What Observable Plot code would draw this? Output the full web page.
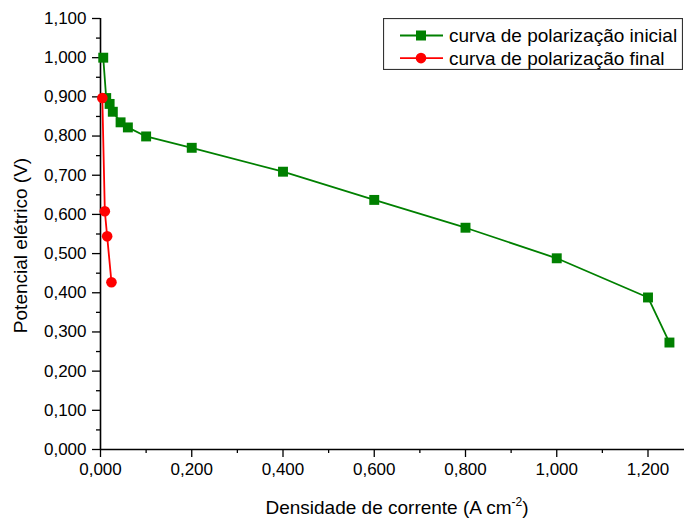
<!DOCTYPE html>
<html>
<head>
<meta charset="utf-8">
<script src="https://cdn.jsdelivr.net/npm/d3@7"></script>
<script src="https://cdn.jsdelivr.net/npm/@observablehq/plot@0.6"></script>
<style>
  html, body { margin: 0; padding: 0; background: #fff; }
  #chart { position: relative; width: 684px; height: 520px; font-family: "Liberation Sans", Arial, sans-serif; }
  #legend { position: absolute; left: 383px; top: 18px; }
</style>
</head>
<body>
<div id="chart"></div>
<script>
// Polarization curves: current density (A cm^-2) vs. cell potential (V)
const initialCurrent   = [0.006, 0.0125, 0.02, 0.027, 0.044, 0.06, 0.1, 0.2, 0.4, 0.6, 0.8, 1.0, 1.2, 1.247];
const initialPotential = [1.000, 0.897, 0.882, 0.862, 0.835, 0.822, 0.799, 0.770, 0.709, 0.637, 0.566, 0.488, 0.388, 0.273];
const finalCurrent     = [0.004, 0.0095, 0.0146, 0.024];
const finalPotential   = [0.897, 0.608, 0.544, 0.427];

const seriesNames = ["curva de polarização inicial", "curva de polarização final"];
const seriesColors = ["#008000", "#ff0000"];
const seriesSymbols = ["square", "circle"];

const yMajorTicks = d3.range(12).map(i => i / 10);
const yMinorTicks = d3.range(11).map(i => i / 10 + 0.05);
const xMajorTicks = d3.range(7).map(i => i * 0.2);
const xMinorTicks = d3.range(7).map(i => i * 0.2 + 0.1);

const xTitle = "Densidade de corrente (A cm";
const xTitleSup = "-2";
const yTitle = "Potencial elétrico (V)";

const initial = initialCurrent.map((x, i) => ({x, y: initialPotential[i]}));
const finalData = finalCurrent.map((x, i) => ({x, y: finalPotential[i]}));

const ptFormat = d3.formatLocale({decimal: ",", thousands: ".", grouping: [3], currency: ["", ""]}).format(".3f");

const plot = Plot.plot({
  width: 684,
  height: 520,
  marginLeft: 100,
  marginRight: 0,
  marginTop: 18,
  marginBottom: 71,
  style: {fontFamily: "Liberation Sans, Arial, sans-serif", fontSize: "17px", color: "#000", background: "#fff", overflow: "visible"},
  x: {domain: [0, 1.28]},
  y: {domain: [0, 1.1]},
  marks: [
    Plot.axisY({ticks: yMinorTicks, tickSize: 4, text: null, label: null, strokeWidth: 1.3}),
    Plot.axisY({ticks: yMajorTicks, tickSize: 8, tickPadding: 6, tickFormat: ptFormat, label: null, strokeWidth: 1.3, fontSize: 17}),
    Plot.axisX({ticks: xMinorTicks, tickSize: 4, text: null, label: null, strokeWidth: 1.3}),
    Plot.axisX({ticks: xMajorTicks, tickSize: 8, tickPadding: 5, tickFormat: ptFormat, label: null, strokeWidth: 1.3, fontSize: 17}),
    Plot.ruleX([0], {stroke: "#000", strokeWidth: 1.6}),
    Plot.ruleY([0], {stroke: "#000", strokeWidth: 1.6}),
    Plot.line(initial, {x: "x", y: "y", stroke: seriesColors[0], strokeWidth: 1.8}),
    Plot.dot(initial, {x: "x", y: "y", symbol: seriesSymbols[0], r: 5.6, fill: seriesColors[0], stroke: null}),
    Plot.line(finalData, {x: "x", y: "y", stroke: seriesColors[1], strokeWidth: 1.8}),
    Plot.dot(finalData, {x: "x", y: "y", symbol: seriesSymbols[1], r: 5.3, fill: seriesColors[1], stroke: null})
  ]
});

const chart = document.getElementById("chart");
chart.appendChild(plot);

// Axis titles (with superscript unit exponent)
const svg = d3.select(plot);
const xs = plot.scale("x"), ys = plot.scale("y");
const xMid = (xs.range[0] + xs.range[1]) / 2 + 5;
const xt = svg.append("text")
  .attr("x", xMid).attr("y", 514)
  .attr("text-anchor", "middle")
  .attr("font-size", 19).attr("fill", "#000");
xt.append("tspan").text(xTitle);
xt.append("tspan").attr("font-size", 12).attr("dy", -8).text(xTitleSup);
xt.append("tspan").attr("dy", 8).text(")");

svg.append("text")
  .attr("transform", `translate(27,${(ys.range[0] + ys.range[1]) / 2 + 12}) rotate(-90)`)
  .attr("text-anchor", "middle")
  .attr("font-size", 19).attr("fill", "#000")
  .text(yTitle);

// Legend box
const lg = d3.select(chart).append("svg")
  .attr("id", "legend")
  .attr("width", 300).attr("height", 52);
lg.append("rect").attr("x", 0.5).attr("y", 0.5).attr("width", 299).attr("height", 51)
  .attr("fill", "#fff").attr("stroke", "#333").attr("stroke-width", 1.2);
seriesNames.forEach((name, i) => {
  const cy = 17.5 + i * 22.6;
  lg.append("line").attr("x1", 17).attr("x2", 60).attr("y1", cy).attr("y2", cy)
    .attr("stroke", seriesColors[i]).attr("stroke-width", 1.8);
  lg.append("path")
    .attr("transform", `translate(38,${cy})`)
    .attr("d", d3.symbol(i === 0 ? d3.symbolSquare : d3.symbolCircle, i === 0 ? 100 : 88)())
    .attr("fill", seriesColors[i]);
  lg.append("text").attr("x", 66).attr("y", cy).attr("dy", "0.35em")
    .attr("font-size", 19).attr("fill", "#000")
    .attr("font-family", "Liberation Sans, Arial, sans-serif")
    .text(name);
});
</script>
</body>
</html>
